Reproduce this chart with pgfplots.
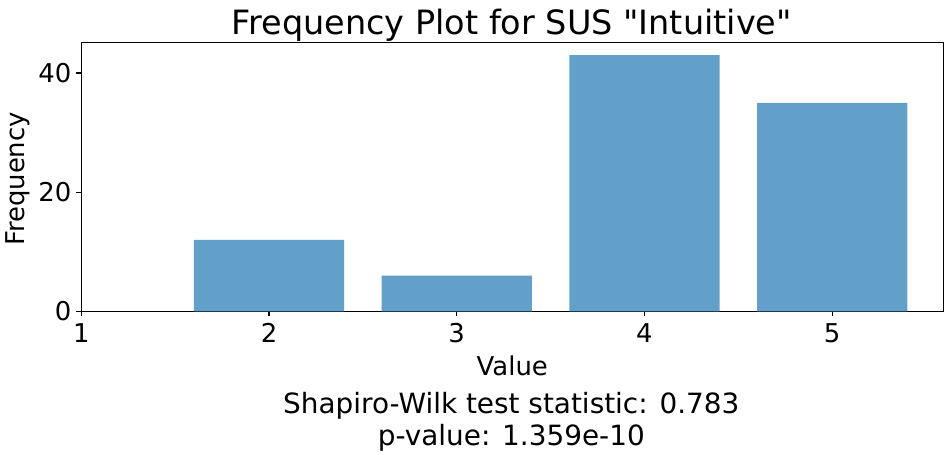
\documentclass[border=0pt]{standalone}
\usepackage{fontspec}
\setmainfont{DejaVu Sans}[Ligatures=TeXOff]
\usepackage{pgfplots}
\pgfplotsset{compat=1.18}
\definecolor{barblue}{RGB}{98,160,202}
\begin{document}
\begin{tikzpicture}
\path[use as bounding box] (-81.3bp,-143.7bp) rectangle (868.7bp,311.3bp);
\begin{axis}[
  at={(0,0)}, anchor=south west,
  scale only axis, width=862bp, height=269bp,
  xmin=1, xmax=5.592, ymin=0, ymax=45.15,
  xtick={1,2,3,4,5}, ytick={0,20,40},
  xtick pos=left, ytick pos=left,
  tick align=outside, major tick length=4.86bp,
  every tick/.style={black, line width=1.1bp},
  axis line style={line width=1.1bp, black},
  /pgf/number format/assume math mode=true,
  ticklabel style={font=\fontsize{26}{30}\selectfont},
  xticklabel style={anchor=base, inner sep=0pt, yshift=-26.8bp},
  yticklabel style={anchor=east, inner sep=0pt, xshift=-4.86bp},
  ybar, bar width=0.8,
]
\addplot[fill=barblue, draw=none, bar shift=0pt] coordinates {(2,12) (3,6) (4,43) (5,35)};
\end{axis}
\node[anchor=base, font=\fontsize{33.6}{40}\selectfont] at (430.5bp,277bp) {Frequency Plot for SUS "Intuitive"};
\node[anchor=base, font=\fontsize{26}{30}\selectfont] at (431bp,-64.4bp) {Value};
\node[anchor=base, rotate=90, font=\fontsize{26}{30}\selectfont] at (-56.3bp,132.3bp) {Frequency};
\node[anchor=base, font=\fontsize{28}{33}\selectfont] at (430bp,-102bp) {Shapiro-Wilk test statistic: 0.783};
\node[anchor=base, font=\fontsize{28}{33}\selectfont] at (430bp,-133.7bp) {p-value: 1.359e-10};
\end{tikzpicture}
\end{document}
